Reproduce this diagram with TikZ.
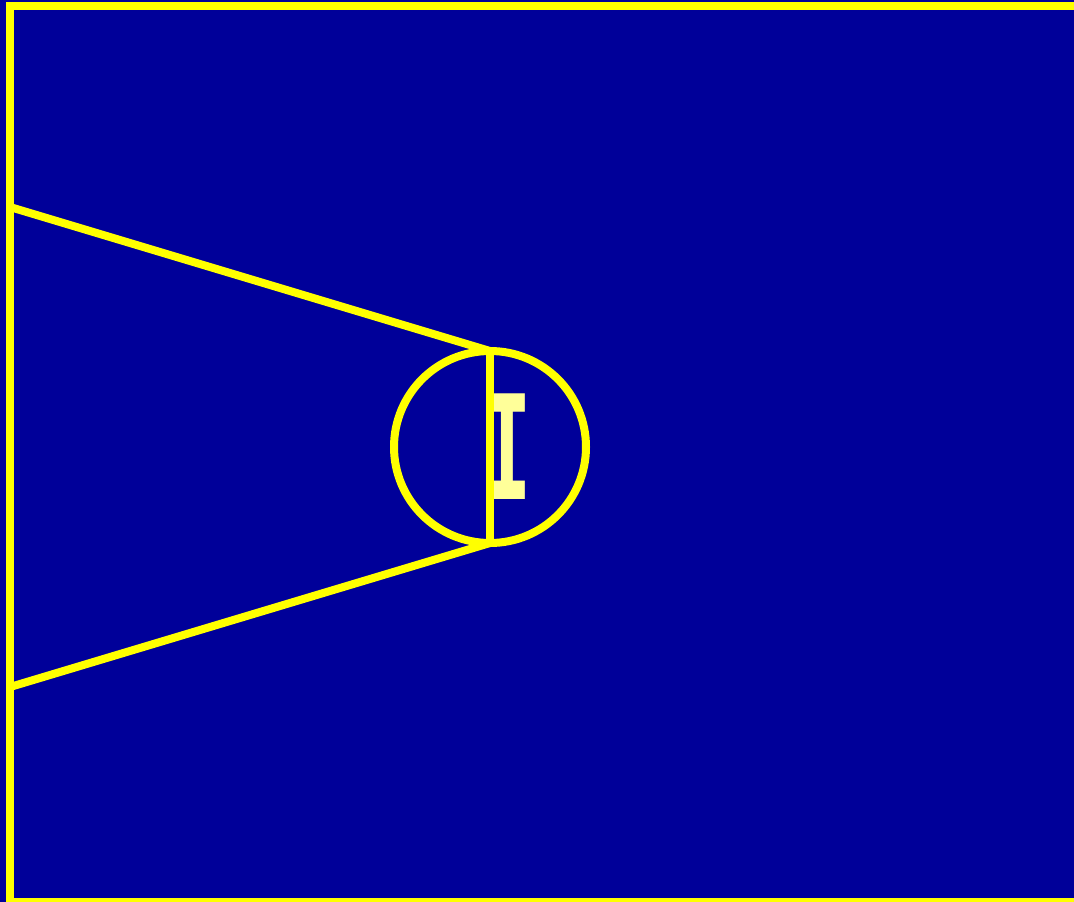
\documentclass[tikz,border=0pt]{standalone}
\usepackage{fontspec}
\newfontfamily\glyphfont{DejaVu Sans Mono}
\definecolor{CourtBlue}{HTML}{000099}
\definecolor{LineYellow}{HTML}{FFFF00}
\definecolor{PaleYellow}{HTML}{FFFF99}

\begin{document}
\begin{tikzpicture}[x=1pt,y=-1pt,
    yline/.style={draw=LineYellow,line width=8pt},
    every node/.style={inner sep=0pt,outer sep=0pt}]
    \useasboundingbox (0,0) rectangle (1074,902);
    \clip (0,0) rectangle (1074,902);
    \fill[CourtBlue] (0,0) rectangle (1074,902);
    % frame, open to the right
    \draw[yline] (1100,6) -- (10,6) -- (10,902) -- (1100,902);
    \coordinate (upper) at (10,207);
    \coordinate (lower) at (10,687);
    \node[text=PaleYellow,font=\glyphfont\bfseries\fontsize{145}{145}\selectfont] (mark) at (507,447) {\scalebox{0.57}[1]{I}};
    \node[circle,yline,minimum size=192pt] (ring) at (490,447) {};
    \draw[yline] (ring.north) -- (ring.south);
    \draw[yline] (upper) -- (ring.north);
    \draw[yline] (lower) -- (ring.south);
\end{tikzpicture}
\end{document}
